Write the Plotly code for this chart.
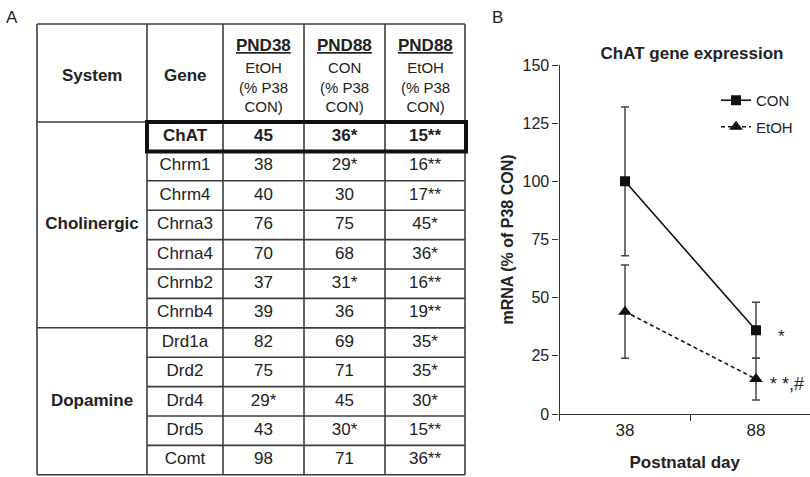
import plotly.graph_objects as go

# ---------------- data ----------------
systems = ["Cholinergic", "Dopamine"]
system_sizes = [7, 5]
genes = ["ChAT", "Chrm1", "Chrm4", "Chrna3", "Chrna4", "Chrnb2", "Chrnb4",
         "Drd1a", "Drd2", "Drd4", "Drd5", "Comt"]
pnd38_etoh = [45, 38, 40, 76, 70, 37, 39, 82, 75, 29, 43, 98]
pnd38_etoh_sig = ["", "", "", "", "", "", "", "", "", "*", "", ""]
pnd88_con = [36, 29, 30, 75, 68, 31, 36, 69, 71, 45, 30, 71]
pnd88_con_sig = ["*", "*", "", "", "", "*", "", "", "", "", "*", ""]
pnd88_etoh = [15, 16, 17, 45, 36, 16, 19, 35, 35, 30, 15, 36]
pnd88_etoh_sig = ["**", "**", "**", "*", "*", "**", "**", "*", "*", "*", "**", "**"]
col_titles = ["PND38", "PND88", "PND88"]
col_subtitles = ["EtOH<br>(% P38<br>CON)", "CON<br>(% P38<br>CON)", "EtOH<br>(% P38<br>CON)"]

days = ["38", "88"]
con_mean = [100, 36]
con_err = [32, 12]
etoh_mean = [44, 15]
etoh_err = [20, 9]

# ---------------- layout constants ----------------
W, H = 810, 477
FONT = "Liberation Sans, Arial, Helvetica, sans-serif"
col_edges = [0, 110, 186, 267, 348, 428]     # table units (px-like)
ROW_H = 29.4
TOP_PX, HEAD_BOT_PX = 24, 122
HEAD_ROWS = (HEAD_BOT_PX - TOP_PX) / ROW_H
n_rows = len(genes)
LINE = dict(color="#3c3c3c", width=1.6)

fig = go.Figure()

def centers(i):
    return (col_edges[i] + col_edges[i + 1]) / 2

def cell_text(vals, sigs):
    out = []
    for r, (v, s) in enumerate(zip(vals, sigs)):
        t = f"{v}{s}"
        out.append(f"<b>{t}</b>" if r == 0 else t)
    return out

row_y = [r + 0.5 for r in range(n_rows)]
gene_text = [f"<b>{g}</b>" if r == 0 else g for r, g in enumerate(genes)]
for ci, txt in [(1, gene_text),
                (2, cell_text(pnd38_etoh, pnd38_etoh_sig)),
                (3, cell_text(pnd88_con, pnd88_con_sig)),
                (4, cell_text(pnd88_etoh, pnd88_etoh_sig))]:
    fig.add_trace(go.Scatter(
        x=[centers(ci)] * n_rows, y=row_y, text=txt, mode="text",
        textfont=dict(family=FONT, size=17, color="#222"),
        xaxis="x2", yaxis="y2", showlegend=False, hoverinfo="skip"))

start = 0
sys_y = []
for n in system_sizes:
    sys_y.append(start + n / 2)
    start += n
fig.add_trace(go.Scatter(
    x=[centers(0)] * len(systems), y=sys_y, text=[f"<b>{s}</b>" for s in systems],
    mode="text", textfont=dict(family=FONT, size=17, color="#222"),
    xaxis="x2", yaxis="y2", showlegend=False, hoverinfo="skip"))

annotations = []
for ci, t in [(0, "System"), (1, "Gene")]:
    annotations.append(dict(x=centers(ci), y=-HEAD_ROWS / 2 + 0.1, xref="x2", yref="y2",
                            text=f"<b>{t}</b>", showarrow=False,
                            font=dict(family=FONT, size=17, color="#222")))
for k, (t, s) in enumerate(zip(col_titles, col_subtitles)):
    ci = k + 2
    annotations.append(dict(x=centers(ci), y=-HEAD_ROWS + 0.72, xref="x2", yref="y2",
                            text=f"<b><u>{t}</u></b>", showarrow=False,
                            font=dict(family=FONT, size=17, color="#222")))
    annotations.append(dict(x=centers(ci), y=-1.2, xref="x2", yref="y2",
                            text=s, showarrow=False,
                            font=dict(family=FONT, size=15, color="#222")))

shapes = []
x0, x1 = col_edges[0], col_edges[-1]
for yv in [-HEAD_ROWS, 0, n_rows]:
    shapes.append(dict(type="line", xref="x2", yref="y2", x0=x0, x1=x1, y0=yv, y1=yv, line=LINE))
acc = 0
for n in system_sizes[:-1]:
    acc += n
    shapes.append(dict(type="line", xref="x2", yref="y2", x0=x0, x1=x1, y0=acc, y1=acc, line=LINE))
for r in range(1, n_rows):
    shapes.append(dict(type="line", xref="x2", yref="y2", x0=col_edges[1], x1=x1,
                       y0=r, y1=r, line=LINE))
for xe in col_edges:
    shapes.append(dict(type="line", xref="x2", yref="y2", x0=xe, x1=xe,
                       y0=-HEAD_ROWS, y1=n_rows, line=LINE))
shapes.append(dict(type="rect", xref="x2", yref="y2", x0=col_edges[1], x1=x1 + 1,
                   y0=0, y1=1, line=dict(color="#111", width=4)))

# ---------------- line chart ----------------
fig.add_trace(go.Scatter(
    x=days, y=con_mean, name="CON", mode="lines+markers", legendgroup="con",
    line=dict(color="#111", width=1.6),
    marker=dict(symbol="square", size=10, color="#111"),
    error_y=dict(type="data", array=con_err, visible=True, color="#444", thickness=1.5, width=4),
    xaxis="x", yaxis="y"))
fig.add_trace(go.Scatter(
    x=days, y=etoh_mean, name="EtOH", mode="lines+markers", legendgroup="etoh",
    line=dict(color="#111", width=1.6, dash="4px,3px"),
    marker=dict(symbol="triangle-up", size=12, color="#111"),
    error_y=dict(type="data", array=etoh_err, visible=True, color="#444", thickness=1.5, width=4),
    xaxis="x", yaxis="y"))

i88 = days.index("88")
annotations.append(dict(x=i88, y=con_mean[i88], xref="x", yref="y", text="*",
                        showarrow=False, xshift=20, yshift=-6, xanchor="left", yanchor="middle",
                        font=dict(family=FONT, size=17, color="#222")))
annotations.append(dict(x=i88, y=etoh_mean[i88], xref="x", yref="y", text="* *,#",
                        showarrow=False, xshift=12, yshift=-5, xanchor="left", yanchor="middle",
                        font=dict(family=FONT, size=18, color="#222")))

annotations.append(dict(x=12 / W, y=1 - 18 / H, xref="paper", yref="paper", text="A",
                        showarrow=False, xanchor="center", yanchor="middle",
                        font=dict(family=FONT, size=17, color="#222")))
annotations.append(dict(x=497 / W, y=1 - 18 / H, xref="paper", yref="paper", text="B",
                        showarrow=False, xanchor="center", yanchor="middle",
                        font=dict(family=FONT, size=17, color="#222")))

px_per_cat = 131
fig.update_layout(
    template="none",
    width=W, height=H, margin=dict(l=0, r=0, t=0, b=0, pad=0, autoexpand=False),
    paper_bgcolor="white", plot_bgcolor="rgba(0,0,0,0)",
    font=dict(family=FONT, color="#222"),
    title=dict(text="<b>ChAT gene expression</b>", x=692 / W, xanchor="center",
               y=1 - 53 / H, yanchor="middle", font=dict(family=FONT, size=17, color="#222")),
    xaxis=dict(domain=[559.5 / W, 1], type="category", range=[-0.5, 1 + (W - 756) / px_per_cat],
               tickson="boundaries", ticks="outside", ticklen=6, tickwidth=1.2, tickcolor="#333",
               showline=True, linecolor="#333", linewidth=1.2, showgrid=False, zeroline=False,
               tickfont=dict(family=FONT, size=17, color="#222"),
               title=dict(text="<b>Postnatal day</b>", font=dict(family=FONT, size=17, color="#222"),
                          standoff=17),
               automargin=False, anchor="y", fixedrange=True),
    yaxis=dict(domain=[1 - 414 / H, 1 - 65 / H], range=[0, 150],
               tickvals=[0, 25, 50, 75, 100, 125, 150],
               ticks="outside", ticklen=6, tickwidth=1.2, tickcolor="#333",
               showline=True, linecolor="#333", linewidth=1.2, showgrid=False, zeroline=False,
               tickfont=dict(family=FONT, size=16, color="#222"),
               title=dict(text="<b>mRNA (% of P38 CON)</b>", font=dict(family=FONT, size=16, color="#222"),
                          standoff=4),
               automargin=False, anchor="x", fixedrange=True),
    xaxis2=dict(domain=[(37 - 3) / W, (465 + 3) / W], range=[-3, 431], visible=False,
                anchor="y2", fixedrange=True, automargin=False),
    yaxis2=dict(domain=[0, 1 - 21 / H],
                range=[(H - HEAD_BOT_PX) / ROW_H, -(HEAD_BOT_PX - 21) / ROW_H],
                visible=False, anchor="x2", fixedrange=True, automargin=False),
    legend=dict(x=716 / W, y=1 - 84 / H, xanchor="left", yanchor="top",
                font=dict(family=FONT, size=15, color="#222"),
                bgcolor="rgba(0,0,0,0)", borderwidth=0, tracegroupgap=4),
    shapes=shapes, annotations=annotations,
)

fig.write_html("out.html", config={"displayModeBar": False},
               post_script="document.body.style.margin='0';")
